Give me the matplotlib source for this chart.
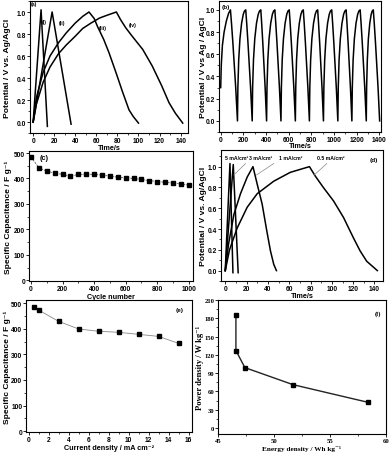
import matplotlib
matplotlib.use("Agg")
import matplotlib.pyplot as plt
from matplotlib.ticker import AutoMinorLocator, MultipleLocator

W, H = 392, 456

# (a) galvanostatic charge/discharge at different current densities
a_i_t = [0, 7.5, 13.5]
a_i_v = [0, 1.02, -0.04]
a_ii_t = [0, 18, 36]
a_ii_v = [0, 1.0, -0.02]
a_iii_t = [0, 3, 9.4, 16, 24, 31.4, 40, 47, 53, 58, 61, 67, 72, 78.6, 85, 91, 95, 100]
a_iii_v = [0, 0.22, 0.45, 0.6, 0.72, 0.81, 0.9, 0.96, 1.0, 0.94, 0.87, 0.75, 0.63,
           0.45, 0.27, 0.11, 0.05, -0.01]
a_iv_t = [0, 3, 9.4, 16, 24, 31.4, 40, 47, 55, 63, 70, 79, 83, 88, 94, 104, 113,
          122, 129, 135, 142]
a_iv_v = [0, 0.16, 0.36, 0.5, 0.62, 0.7, 0.78, 0.85, 0.9, 0.945, 0.97, 1.0, 0.93,
          0.855, 0.78, 0.66, 0.51, 0.33, 0.175, 0.08, -0.01]

# (b) repeated cycling: first charge, then peak / trough times and one cycle shape
b_first_t = [0, 5, 15, 30, 50, 70, 86]
b_first_v = [0.3, 0.5, 0.68, 0.8, 0.9, 0.97, 1.0]
b_peaks = [86, 221, 354, 478, 605, 729, 856, 980, 1107, 1231, 1347]
b_troughs = [148, 278, 405, 532, 659, 783, 907, 1034, 1158, 1285, 1403]
b_dis_frac = [0, 0.15, 0.35, 0.55, 0.75, 0.9, 1.0]
b_dis_v = [1.0, 0.88, 0.7, 0.5, 0.3, 0.13, 0.0]
b_chg_frac = [0, 0.05, 0.15, 0.3, 0.5, 0.7, 0.85, 1.0]
b_chg_v = [0, 0.3, 0.55, 0.74, 0.88, 0.96, 0.99, 1.0]

# (c) cycle stability
c_cycle = [0, 50, 100, 150, 200, 250, 300, 350, 400, 450, 500, 550, 600, 650,
           700, 750, 800, 850, 900, 950, 1000]
c_cap = [484, 442, 429, 421, 416, 409, 416, 417, 416, 413, 409, 405, 403, 400,
         396, 392, 388, 385, 382, 378, 374]

# (d) charge/discharge curves labelled by current density
d_5_t = [0, 4.4, 7.2]
d_5_v = [0, 1.03, -0.02]
d_3_t = [0, 7.5, 12.1]
d_3_v = [0, 1.02, -0.02]
d_1_t = [0, 3, 8.1, 14.3, 20.6, 26, 30, 34.6, 39, 42.4, 45.5, 48]
d_1_v = [0, 0.25, 0.54, 0.74, 0.9, 1.0, 0.83, 0.64, 0.38, 0.19, 0.06, 0.0]
d_05_t = [0, 4, 11.2, 20.6, 30, 45.5, 61, 79, 84.4, 92, 101.6, 111, 120, 126.5,
          132.7, 142.7]
d_05_v = [0, 0.2, 0.41, 0.61, 0.74, 0.86, 0.945, 1.0, 0.91, 0.8, 0.67, 0.51,
          0.32, 0.19, 0.09, 0.0]
d_labels = ["5 mA/cm²", "3 mA/cm²", "1 mA/cm²", "0.5 mA/cm²"]

# (e) rate capability
e_current = [0.5, 1, 3, 5, 7, 9, 11, 13, 15]
e_cap = [484, 473, 429, 399, 390, 386, 378, 370, 343]

# (f) Ragone plot
f_energy = [46.6, 46.6, 47.4, 51.7, 58.4]
f_power = [185, 127, 99, 71, 42]

plt.rcParams["font.family"] = ["Liberation Sans", "DejaVu Sans"]
plt.rcParams["font.weight"] = "bold"
plt.rcParams["axes.labelweight"] = "bold"
plt.rcParams["axes.linewidth"] = 0.8

SERIF = ["Liberation Serif", "DejaVu Serif"]

fig = plt.figure(figsize=(W / 100, H / 100), dpi=100)


def box(l, t, r, b):
    return fig.add_axes([l / W, 1 - b / H, (r - l) / W, (b - t) / H])


# xl_px / yl_px: pixel position of the label centre in the figure
def style(ax, xlabel, ylabel, xl_px, yl_px, rect, serif=False):
    l, t, r, b = rect
    ax.xaxis.set_minor_locator(AutoMinorLocator(2))
    ax.yaxis.set_minor_locator(AutoMinorLocator(2))
    ax.tick_params(which="major", direction="out", length=2, width=0.6,
                   labelsize=4.8, pad=0.7)
    ax.tick_params(which="minor", direction="out", length=1.1, width=0.5)
    kw = {"family": SERIF} if serif else {}
    ax.set_xlabel(xlabel, fontsize=5.2, va="center", **kw)
    ax.set_ylabel(ylabel, fontsize=6.1, va="center", **kw)
    ax.xaxis.set_label_coords(0.5, (b - xl_px) / (b - t))
    ax.yaxis.set_label_coords((yl_px - l) / (r - l), 0.5)
    if serif:
        for lab in ax.get_xticklabels() + ax.get_yticklabels():
            lab.set_family(SERIF)


lw = 1.1

# (a)
ra = (30, 2, 188, 134)
ax = box(*ra)
for t, v in [(a_i_t, a_i_v), (a_ii_t, a_ii_v), (a_iii_t, a_iii_v), (a_iv_t, a_iv_v)]:
    ax.plot(t, v, color="black", lw=lw)
ax.set_xlim(-3, 147)
ax.set_ylim(-0.1, 1.1)
ax.xaxis.set_major_locator(MultipleLocator(20))
ax.yaxis.set_major_locator(MultipleLocator(0.2))
ax.yaxis.set_major_formatter("{x:.1f}")
ax.text(-2, 1.06, "(a)", fontsize=3.8)
for x, y, s in [(8.5, 0.915, "(i)"), (24, 0.905, "(ii)"), (62, 0.855, "(iii)"),
                (91, 0.885, "(iv)")]:
    ax.text(x, y, s, fontsize=3.8, va="center")
style(ax, "Time/s", "Potential / V vs. Ag/AgCl", 148, 7.5, ra)

# (b)
rb = (219, 2, 381, 133)
ax = box(*rb)
bt = list(b_first_t)
bv = list(b_first_v)
for i, p in enumerate(b_peaks):
    r = b_troughs[i]
    bt += [p + f * (r - p) for f in b_dis_frac[1:]]
    bv += b_dis_v[1:]
    if i + 1 < len(b_peaks):
        n = b_peaks[i + 1]
        bt += [r + f * (n - r) for f in b_chg_frac[1:]]
        bv += b_chg_v[1:]
ax.plot(bt, bv, color="black", lw=lw)
ax.set_xlim(-15, 1415)
ax.set_ylim(-0.1, 1.08)
ax.xaxis.set_major_locator(MultipleLocator(200))
ax.yaxis.set_major_locator(MultipleLocator(0.2))
ax.yaxis.set_major_formatter("{x:.1f}")
ax.text(5, 1.02, "(b)", fontsize=4.6)
style(ax, "Time/s", "Potential / V vs Ag / AgCl", 147, 203.5, rb)

# (c)
rc = (29, 152, 193, 282)
ax = box(*rc)
ax.plot(c_cycle, c_cap, color="#444444", lw=0.5, ls=(0, (3, 1.5)),
        marker="s", ms=2.2, mfc="black", mec="black")
ax.set_xlim(-13, 1027)
ax.set_ylim(-3, 508)
ax.xaxis.set_major_locator(MultipleLocator(200))
ax.yaxis.set_major_locator(MultipleLocator(100))
ax.text(53, 481, "(c)", fontsize=5.2, va="center")
style(ax, "Cycle number", "Specific Capacitance / F g⁻¹", 297.5, 8.5, rc)

# (d)
rd = (221, 151, 383, 282)
ax = box(*rd)
for t, v in [(d_5_t, d_5_v), (d_3_t, d_3_v), (d_1_t, d_1_v), (d_05_t, d_05_v)]:
    ax.plot(t, v, color="black", lw=lw)
ax.set_xlim(-4, 148)
ax.set_ylim(-0.1, 1.16)
ax.xaxis.set_major_locator(MultipleLocator(20))
ax.yaxis.set_major_locator(MultipleLocator(0.2))
ax.yaxis.set_major_formatter("{x:.1f}")
for x, s in zip([0, 22.5, 50, 86], d_labels):
    ax.text(x, 1.06, s, fontsize=3.7, va="bottom")
for (x0, y0), (x1, y1) in [((19, 1.03), (8.1, 0.92)), ((45.5, 1.03), (29.3, 0.92)),
                           ((95.3, 1.03), (83.5, 0.92))]:
    ax.plot([x0, x1], [y0, y1], color="#888888", lw=0.5)
ax.text(135, 1.07, "(d)", fontsize=4.6, va="center")
style(ax, "Time/s", "Potential / V vs. Ag/AgCl", 296.5, 203.5, rd)

# (e)
re = (26, 301, 192, 433)
ax = box(*re)
ax.plot(e_current, e_cap, color="#888888", lw=0.6, marker="s", ms=2.4,
        mfc="black", mec="black")
ax.set_xlim(-0.25, 16.35)
ax.set_ylim(-3, 512)
ax.xaxis.set_major_locator(MultipleLocator(2))
ax.yaxis.set_major_locator(MultipleLocator(100))
ax.text(14.7, 474, "(e)", fontsize=4.6, va="center")
style(ax, "Current density / mA cm⁻²", "Specific Capacitance / F g⁻¹", 448.5, 7.5, re)

# (f)
rf = (218, 301, 386, 435)
ax = box(*rf)
ax.plot(f_energy, f_power, color="#222222", lw=1.0, marker="s", ms=2.8,
        mfc="black", mec="black")
ax.set_xlim(45, 60)
ax.set_ylim(-10, 210)
ax.xaxis.set_major_locator(MultipleLocator(5))
ax.yaxis.set_major_locator(MultipleLocator(30))
ax.text(59, 188, "(f)", fontsize=4.6, va="center", family=SERIF)
style(ax, "Energy density / Wh kg⁻¹", "Power density / W kg⁻¹", 449.5, 200.5, rf,
      serif=True)

fig.savefig("out.png", dpi=100)
